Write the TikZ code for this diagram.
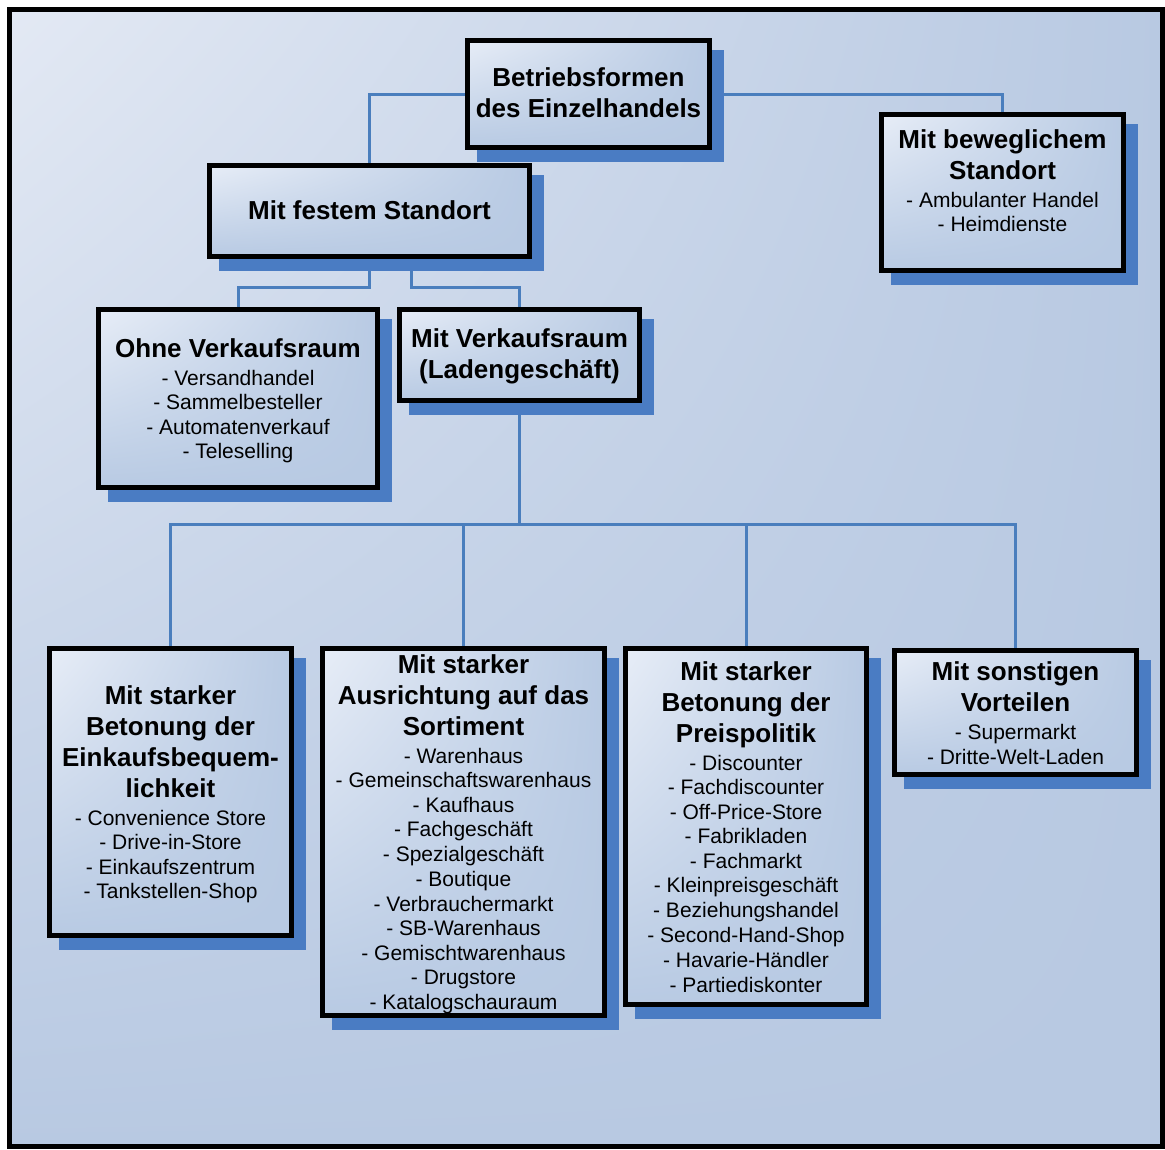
\documentclass[tikz,border=0pt]{standalone}
\usepackage{fontspec}
\setmainfont{Liberation Sans}
\usetikzlibrary{shadows, shadings, backgrounds, positioning}

\definecolor{bglight}{HTML}{E3E9F4}
\definecolor{bgdark}{HTML}{B8C9E2}
\definecolor{boxlight}{HTML}{E7EDF7}
\definecolor{boxdark}{HTML}{B8CAE3}
\definecolor{shadowblue}{HTML}{4A7CC3}
\definecolor{linkblue}{HTML}{4A7EBD}

\newcommand{\itemfont}{\fontsize{21}{0}\selectfont\lineskip=0pt\lineskiplimit=0pt}
\newcommand{\boxtitle}[1]{{\fontsize{26}{0}\selectfont\bfseries\rule[-7.5pt]{0pt}{31pt}#1}}
\newcommand{\boxitem}[1]{\rule[-4pt]{0pt}{24.5pt}#1}

\tikzset{
    formbox/.style args={#1 #2}{
        draw=black, line width=5pt,
        shading=bilinear interpolation,
        upper left=boxlight, upper right=boxdark,
        lower left=boxdark, lower right=boxdark,
        minimum width=#1, minimum height=#2,
        inner sep=0pt, align=center, font=\itemfont,
        drop shadow={shadow xshift=12pt, shadow yshift=-12pt,
            fill=shadowblue, draw=shadowblue, line width=5pt, opacity=1}
    },
    link/.style={draw=linkblue, line width=3pt}
}

\begin{document}
\begin{tikzpicture}[x=1pt, y=-1pt]
    \useasboundingbox (0,0) rectangle (1165,1149);
    \begin{scope}[on background layer]
    \shadedraw[line width=5pt, shading=bilinear interpolation,
        upper left=bglight, upper right=bgdark, lower left=bgdark, lower right=bgdark]
        (9.5,9) rectangle (1162.5,1146);
    \end{scope}

    \node[formbox={242pt 107pt}] (root) at (588.5,94)
        {\boxtitle{Betriebsformen}\\\boxtitle{des Einzelhandels}};
    \node[formbox={320pt 91pt}] (festem) at (369.5,211)
        {\boxtitle{Mit festem Standort}};
    \node[formbox={242pt 156pt}] (beweg) at (1002.5,192.5)
        {\boxtitle{Mit beweglichem}\\\boxtitle{Standort}\\
         \boxitem{- Ambulanter Handel}\\\boxitem{- Heimdienste}\\\boxitem{}};
    \node[formbox={279pt 178pt}] (ohne) at (238,398.5)
        {\boxtitle{Ohne Verkaufsraum}\\
         \boxitem{- Versandhandel}\\\boxitem{- Sammelbesteller}\\
         \boxitem{- Automatenverkauf}\\\boxitem{- Teleselling}};
    \node[formbox={240pt 91pt}] (verk) at (519.5,355)
        {\boxtitle{Mit Verkaufsraum}\\\boxtitle{(Ladengeschäft)}};

    % untere Reihe
    \node[formbox={242pt 287pt}] (bequem) at (170.5,792)
        {\boxtitle{Mit starker}\\\boxtitle{Betonung der}\\
         \boxtitle{Einkaufsbequem-}\\\boxtitle{lichkeit}\\
         \boxitem{- Convenience Store}\\\boxitem{- Drive-in-Store}\\
         \boxitem{- Einkaufszentrum}\\\boxitem{- Tankstellen-Shop}};
    \node[formbox={282pt 367pt}] (sortiment) at (463.5,832)
        {\boxtitle{Mit starker}\\\boxtitle{Ausrichtung auf das}\\\boxtitle{Sortiment}\\
         \boxitem{- Warenhaus}\\\boxitem{- Gemeinschaftswarenhaus}\\
         \boxitem{- Kaufhaus}\\\boxitem{- Fachgeschäft}\\
         \boxitem{- Spezialgeschäft}\\\boxitem{- Boutique}\\
         \boxitem{- Verbrauchermarkt}\\\boxitem{- SB-Warenhaus}\\
         \boxitem{- Gemischtwarenhaus}\\\boxitem{- Drugstore}\\
         \boxitem{- Katalogschauraum}};
    \node[formbox={241pt 356pt}] (preis) at (746,826.5)
        {\boxtitle{Mit starker}\\\boxtitle{Betonung der}\\\boxtitle{Preispolitik}\\
         \boxitem{- Discounter}\\\boxitem{- Fachdiscounter}\\
         \boxitem{- Off-Price-Store}\\\boxitem{- Fabrikladen}\\
         \boxitem{- Fachmarkt}\\\boxitem{- Kleinpreisgeschäft}\\
         \boxitem{- Beziehungshandel}\\\boxitem{- Second-Hand-Shop}\\
         \boxitem{- Havarie-Händler}\\\boxitem{- Partiediskonter}};
    \node[formbox={242pt 124pt}] (sonst) at (1015.5,712.5)
        {\boxtitle{Mit sonstigen}\\\boxtitle{Vorteilen}\\
         \boxitem{- Supermarkt}\\\boxitem{- Dritte-Welt-Laden}};

    \coordinate (bus) at (519.5,524);
    \begin{scope}[on background layer]
    \draw[link] (root.west) -| (festem.north);
    \draw[link] (root.east) -| (beweg.north);
    \draw[link] (festem.south) -- ++(0,28.5) -| (ohne.north);
    \draw[link] ([xshift=41.5pt]festem.south) -- ++(0,28.5) -| (verk.north);
    \draw[link] (verk.south) -- (bus);
    \foreach \b in {bequem, sortiment, preis, sonst}
        \draw[link] (bus) -| (\b.north);
    \end{scope}
\end{tikzpicture}
\end{document}
